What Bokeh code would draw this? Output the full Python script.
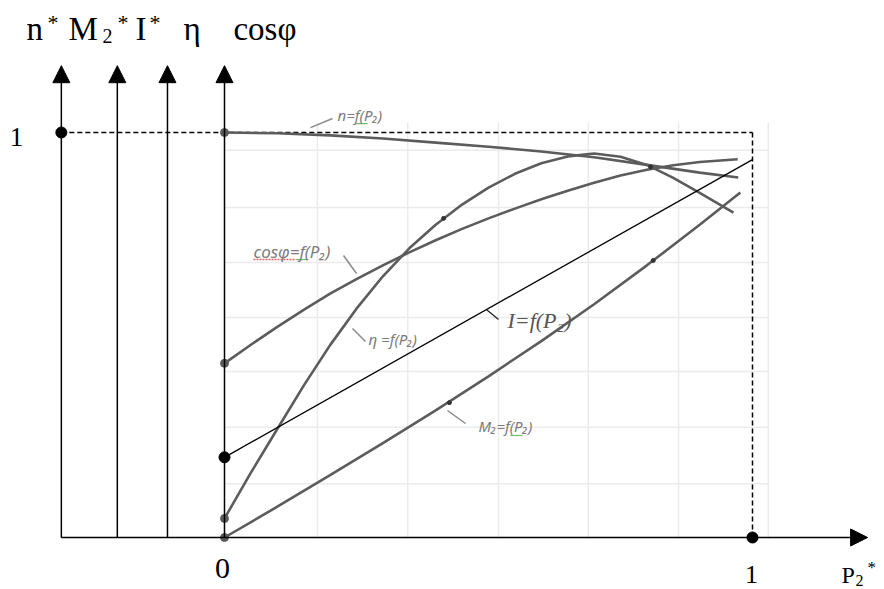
from bokeh.plotting import figure
from bokeh.models import Range1d, Arrow, NormalHead, Label
from bokeh.embed import file_html
from bokeh.resources import INLINE

# ---- data (per-unit values) ----
n_x = [0.0, 0.1, 0.2, 0.3, 0.4, 0.5, 0.6, 0.7, 0.8, 0.9, 0.973]
n_y = [1.0, 0.998, 0.993, 0.985, 0.975, 0.965, 0.953, 0.939, 0.920, 0.901, 0.889]

cos_x = [0.0, 0.05, 0.10, 0.15, 0.20, 0.25, 0.30, 0.35, 0.40, 0.45, 0.50,
         0.55, 0.60, 0.65, 0.70, 0.75, 0.80, 0.85, 0.90, 0.972]
cos_y = [0.430, 0.476, 0.520, 0.562, 0.602, 0.638, 0.672, 0.704, 0.734, 0.762, 0.788,
         0.812, 0.835, 0.856, 0.876, 0.894, 0.908, 0.919, 0.927, 0.934]

eta_x = [0.0, 0.05, 0.10, 0.15, 0.20, 0.25, 0.30, 0.35, 0.40, 0.45, 0.50,
         0.55, 0.60, 0.65, 0.70, 0.75, 0.80, 0.85, 0.90, 0.964]
eta_y = [0.047, 0.160, 0.268, 0.375, 0.475, 0.565, 0.645, 0.714, 0.772, 0.822, 0.864,
         0.898, 0.924, 0.941, 0.948, 0.940, 0.920, 0.888, 0.851, 0.802]

m_x = [0.0, 0.1, 0.2, 0.3, 0.4, 0.5, 0.6, 0.7, 0.8, 0.9, 0.977]
m_y = [0.0, 0.076, 0.154, 0.233, 0.314, 0.398, 0.485, 0.576, 0.672, 0.772, 0.852]

i_x = [0.0, 1.0]
i_y = [0.198, 0.933]

tick_x = [0.415, 0.426, 0.812, 0.807]     # small marks on the curves
tick_y = [0.788, 0.333, 0.684, 0.915]

axes_x = [-0.309, -0.203, -0.108, 0.0]   # n*, M2*, I*, eta/cos axes
grid_x = [0.176, 0.347, 0.519, 0.689, 0.860, 1.030]
grid_y = [0.133, 0.272, 0.410, 0.543, 0.679, 0.815, 0.956]

GRAY = "#5c5c5c"
LBL = "#7c7c7c"

p = figure(width=884, height=589,
           x_range=Range1d(-0.42424, 1.25), y_range=Range1d(-0.12840, 1.32593),
           output_backend="svg", toolbar_location=None, min_border=0,
           x_axis_location=None, y_axis_location=None)
p.grid.visible = False
p.outline_line_color = None
p.background_fill_color = "white"
p.border_fill_color = "white"

# faint grid
p.segment(x0=grid_x, y0=[0] * len(grid_x), x1=grid_x, y1=[1.025] * len(grid_x),
          line_color="#ebebeb", line_width=1.5)
p.segment(x0=[0] * len(grid_y), y0=grid_y, x1=[1.03] * len(grid_y), y1=grid_y,
          line_color="#ebebeb", line_width=1.5)

# dashed rated-point lines
p.line([axes_x[0], 1.0], [1.0, 1.0], line_color="black", line_width=1.5, line_dash="5 3")
p.line([1.0, 1.0], [0.0, 1.0], line_color="black", line_width=1.5, line_dash="5 3")

# axes with arrows
head = dict(size=17, fill_color="black", line_color="black")
for ax in axes_x:
    p.add_layout(Arrow(end=NormalHead(**head), x_start=ax, y_start=0.0, x_end=ax, y_end=1.165,
                       line_color="black", line_width=1.5))
p.add_layout(Arrow(end=NormalHead(**head), x_start=axes_x[0], y_start=0.0, x_end=1.218, y_end=0.0,
                   line_color="black", line_width=1.5))

# curves
for xs, ys in [(n_x, n_y), (cos_x, cos_y), (eta_x, eta_y), (m_x, m_y)]:
    p.line(xs, ys, line_color=GRAY, line_width=2.6)
p.line(i_x, i_y, line_color="black", line_width=1.3)

# dots
p.scatter([n_x[0], cos_x[0], eta_x[0], m_x[0]], [n_y[0], cos_y[0], eta_y[0], m_y[0]],
          size=8, fill_color=GRAY, line_color=GRAY)
p.scatter(tick_x, tick_y, size=4, fill_color="#333333", line_color="#333333")
p.scatter([axes_x[0], i_x[0], 1.0], [1.0, i_y[0], 0.0], size=11,
          fill_color="black", line_color="black")

# leader lines
lead_x0 = [0.163, 0.2254, 0.2424, 0.4223]
lead_y0 = [1.012, 0.6963, 0.516, 0.3136]
lead_x1 = [0.2045, 0.250, 0.267, 0.4564]
lead_y1 = [1.0346, 0.6519, 0.484, 0.2815]
p.segment(x0=lead_x0, y0=lead_y0, x1=lead_x1, y1=lead_y1, line_color="#8a8a8a", line_width=1.5)
p.segment(x0=[0.496], y0=[0.563], x1=[0.519], y1=[0.538], line_color="#222222", line_width=1.3)

# spell-check underlines (as in the source picture)
p.segment(x0=[0.0549], y0=[0.6864], x1=[0.1345], y1=[0.6864], line_color="#e06060", line_width=1.5,
          line_dash="2 1")
p.segment(x0=[0.1345, 0.248, 0.5417], y0=[0.6864, 1.022, 0.2519], x1=[0.159, 0.271, 0.5644],
          y1=[0.6864, 1.022, 0.2519], line_color="#6cbf6c", line_width=1.2)

def lab(x, y, t, size, font="Liberation Serif", style="normal", color="black",
        align="left", base="middle"):
    p.add_layout(Label(x=x, y=y, text=t, text_font=font, text_font_size=f"{size}px",
                       text_font_style=style, text_color=color, text_align=align,
                       text_baseline=base))

# axis titles
lab(-0.375, 1.2556, "n", 33)
lab(-0.3352, 1.2710, "*", 22)
lab(-0.2955, 1.2556, "M", 33)
lab(-0.2311, 1.2383, "2", 20)
lab(-0.2027, 1.2710, "*", 22)
lab(-0.1686, 1.2556, "I", 33)
lab(-0.142, 1.2710, "*", 22)
lab(-0.0777, 1.2556, "η", 33)
lab(0.017, 1.2556, "cosφ", 33)

lab(-0.394, 0.988, "1", 27, align="center")
lab(-0.0038, -0.077, "0", 30, align="center")
lab(0.998, -0.0914, "1", 26, align="center")
lab(1.1686, -0.0938, "P", 24)
lab(1.1951, -0.1062, "2", 16)
lab(1.2178, -0.0741, "*", 17)

# curve labels
lab(0.214, 1.042, "n=f(P₂)", 15, font="Noto Sans", style="italic", color=LBL)
lab(0.0549, 0.706, "cosφ=f(P₂)", 17, font="Noto Sans", style="italic", color=LBL)
lab(0.2727, 0.4889, "η =f(P₂)", 15, font="Noto Sans", style="italic", color=LBL)
lab(0.536, 0.5358, "I=f(P₂)", 22, font="Liberation Serif", style="italic", color="#555555")
lab(0.481, 0.2765, "M₂=f(P₂)", 15, font="Noto Sans", style="italic", color=LBL)

open("out.html", "w").write(file_html(p, INLINE))
